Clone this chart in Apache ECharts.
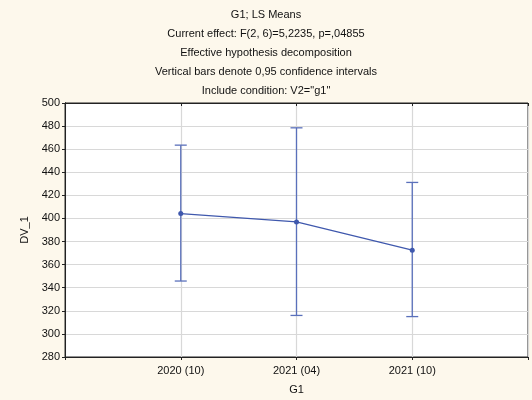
<!DOCTYPE html>
<html><head><meta charset="utf-8">
<script src="https://cdn.jsdelivr.net/npm/echarts@6/dist/echarts.min.js"></script>
<style>html,body{margin:0;padding:0;background:#fdf8ec;}#c{width:532px;height:400px;}</style>
</head><body><div id="c"></div>
<script>
const categories = ['2020 (10)', '2021 (04)', '2021 (10)'];
const means = [404.2, 397.0, 372.5];
const lower = [345.8, 316.0, 315.0];
const upper = [463.5, 478.5, 431.2];
const titleLines = ['G1; LS Means', 'Current effect: F(2, 6)=5,2235, p=,04855', 'Effective hypothesis decomposition', 'Vertical bars denote 0,95 confidence intervals', 'Include condition: V2="g1"'];

const chart = echarts.init(document.getElementById('c'), null, {renderer: 'canvas'});
const font = 'Liberation Sans, Arial, sans-serif';
const blue = '#3f58ad';
const errBlue = '#5a70bb';
const lineData = means.map((v, i) => [i + 1, v]);
const errData = means.map((v, i) => [i + 1, lower[i], upper[i]]);

chart.setOption({
  backgroundColor: '#fdf8ec',
  animation: false,
  title: titleLines.map((t, i) => ({
    text: t, left: 'center', top: 4 + i * 19,
    textStyle: {fontFamily: font, fontSize: 11, fontWeight: 'normal', color: '#111'}
  })),
  grid: {left: 65, right: 4, top: 103, bottom: 42, show: true, backgroundColor: '#ffffff', borderColor: '#222', borderWidth: 1},
  xAxis: [{
    type: 'value', min: 0, max: 4, interval: 1,
    name: 'G1', nameLocation: 'middle', nameGap: 27,
    nameTextStyle: {fontFamily: font, fontSize: 11, color: '#111'},
    axisLine: {show: true, lineStyle: {color: '#222'}},
    axisTick: {show: true, length: 3, lineStyle: {color: '#222'}},
    axisLabel: {fontFamily: font, fontSize: 11, color: '#111', margin: 8,
      formatter: v => (v >= 1 && v <= 3) ? categories[v - 1] : ''},
    splitLine: {show: true, lineStyle: {color: '#d8d8d8', width: 1.2}}
  }, {
    type: 'value', min: 0, max: 4, interval: 1, position: 'top',
    axisLine: {show: true, lineStyle: {color: '#222'}},
    axisTick: {show: true, inside: true, length: 3, lineStyle: {color: '#222'}},
    axisLabel: {show: false}, splitLine: {show: false}
  }],
  yAxis: [{
    type: 'value', min: 280, max: 500, interval: 20,
    name: 'DV_1', nameLocation: 'middle', nameGap: 33, nameRotate: 90,
    nameTextStyle: {fontFamily: font, fontSize: 11, color: '#111'},
    axisLine: {show: true, lineStyle: {color: '#222'}},
    axisTick: {show: true, length: 3, lineStyle: {color: '#222'}},
    axisLabel: {fontFamily: font, fontSize: 11, color: '#111', margin: 5},
    splitLine: {show: true, lineStyle: {color: '#d8d8d8', width: 1.2}}
  }, {
    type: 'value', min: 280, max: 500, interval: 20, position: 'right',
    axisLine: {show: true, lineStyle: {color: '#222'}},
    axisTick: {show: true, inside: true, length: 3, lineStyle: {color: '#222'}},
    axisLabel: {show: false}, splitLine: {show: false}
  }],
  series: [{
    type: 'custom',
    data: errData,
    encode: {x: 0, y: [1, 2]},
    renderItem: (params, api) => {
      const x = api.value(0);
      const lo = api.coord([x, api.value(1)]);
      const hi = api.coord([x, api.value(2)]);
      const hw = 6;
      const style = {stroke: errBlue, lineWidth: 1.3};
      return {type: 'group', children: [
        {type: 'line', shape: {x1: lo[0], y1: lo[1], x2: hi[0], y2: hi[1]}, style},
        {type: 'line', shape: {x1: lo[0] - hw, y1: lo[1], x2: lo[0] + hw, y2: lo[1]}, style},
        {type: 'line', shape: {x1: hi[0] - hw, y1: hi[1], x2: hi[0] + hw, y2: hi[1]}, style}
      ]};
    },
    z: 2
  }, {
    type: 'line',
    data: lineData,
    symbol: 'circle', symbolSize: 5,
    itemStyle: {color: blue},
    lineStyle: {color: blue, width: 1.2},
    z: 3
  }]
});
</script></body></html>
